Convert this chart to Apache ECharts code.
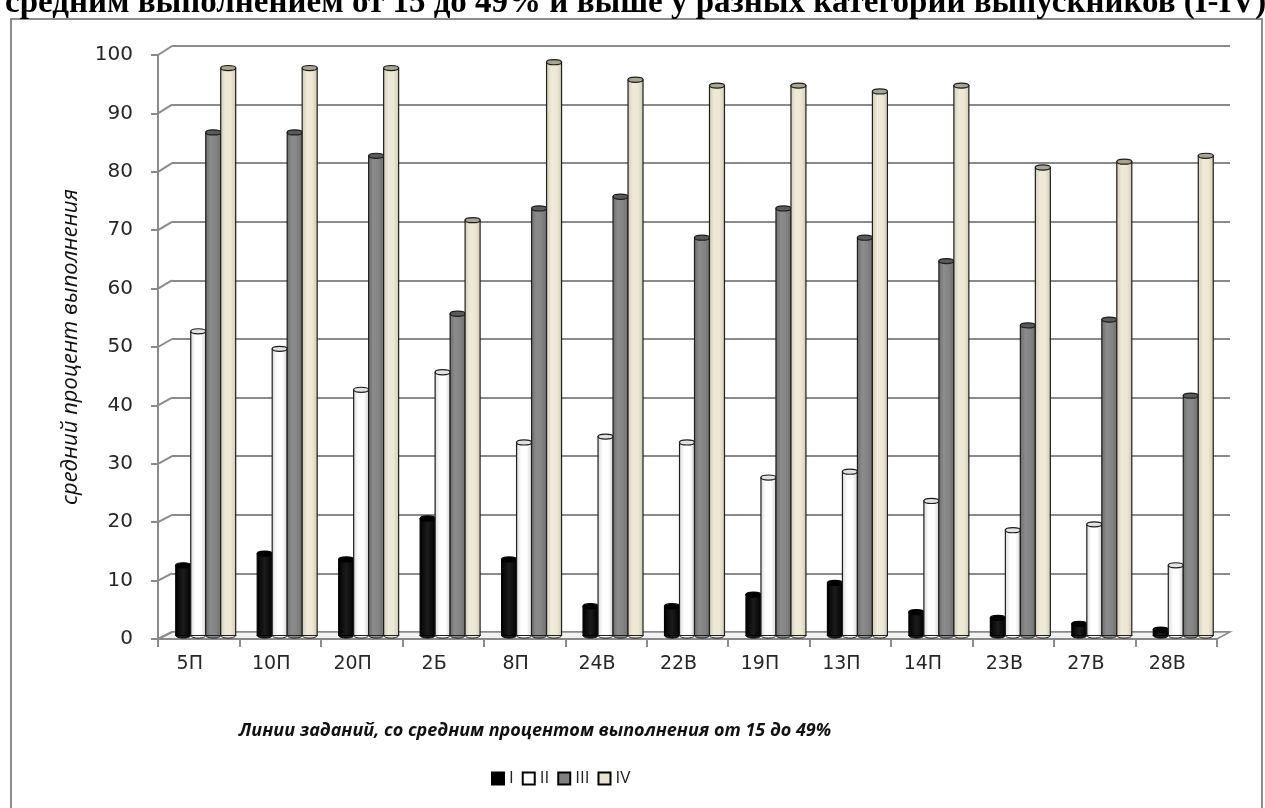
<!DOCTYPE html>
<html>
<head>
<meta charset="utf-8">
<script src="https://cdn.jsdelivr.net/npm/echarts@6/dist/echarts.min.js"></script>
<style>
  html, body { margin: 0; padding: 0; background: #ffffff; }
  #chart { width: 1265px; height: 808px; }
</style>
</head>
<body>
<div id="chart"></div>
<script>
// Task lines (categories) and the average completion percentage per graduate group
const categories = ['5П', '10П', '20П', '2Б', '8П', '24В', '22В', '19П', '13П', '14П', '23В', '27В', '28В'];
const groupNames = ['I', 'II', 'III', 'IV'];
const valuesI   = [12, 14, 13, 20, 13, 5, 5, 7, 9, 4, 3, 2, 1];
const valuesII  = [52, 49, 42, 45, 33, 34, 33, 27, 28, 23, 18, 19, 12];
const valuesIII = [86, 86, 82, 55, 73, 75, 68, 73, 68, 64, 53, 54, 41];
const valuesIV  = [97, 97, 97, 71, 98, 95, 94, 94, 93, 94, 80, 81, 82];
const yTicks = [0, 10, 20, 30, 40, 50, 60, 70, 80, 90, 100];

const titleText = 'средним выполнением от 15 до 49% и выше у разных категорий выпускников (I-IV)';
const xTitle = 'Линии заданий, со средним процентом выполнения от 15 до 49%';
const yTitle = 'средний процент выполнения';

// Pseudo-3D layout: back wall, bar plane and front axis plane
const BACK  = { left: 172, right: 1230, top: 46, bottom: 632 };
const MID   = { left: 165, right: 1224, top: 50.5, bottom: 635.5 };
const FRONT = { left: 158, right: 1217, top: 55, bottom: 639 };

function gridOf(r) {
  return { left: r.left, top: r.top, width: r.right - r.left, height: r.bottom - r.top, containLabel: false };
}

// Cylinder looks for each group
const looks = [
  { body: ['#000000', '#1c1c1c', '#000000'], cap: '#000000', edge: '#000000' },
  { body: ['#d8d8d8', '#ffffff', '#ffffff', '#d0d0d0'], cap: '#e2e2e2', edge: '#1e1e1e' },
  { body: ['#6a6a6a', '#8c8c8c', '#838383', '#6e6e6e'], cap: '#5a5a5a', edge: '#1e1e1e' },
  { body: ['#cfcbb4', '#eeead8', '#ece8d4', '#cdc9b2'], cap: '#a9a690', edge: '#1e1e1e' }
];
const legendColors = ['#000000', '#ffffff', '#808080', '#e8e4d0'];

function gradientOf(stops) {
  const n = stops.length - 1;
  return new echarts.graphic.LinearGradient(0, 0, 1, 0,
    stops.map((c, i) => ({ offset: i / n, color: c })));
}

function cylinder(k) {
  const look = looks[k];
  return function (params, api) {
    const ci = api.value(0);
    const v = api.value(1);
    const top = api.coord([ci, v]);
    const base = api.coord([ci, 0]);
    const band = api.size([1, 0])[0];
    const w = band * 0.184;
    const cx = top[0] + (k - 1.5) * w;
    const ry = w * 0.17;
    return {
      type: 'group',
      children: [
        { type: 'ellipse', shape: { cx: cx, cy: base[1], rx: w / 2, ry: ry },
          style: { fill: look.body[1], stroke: look.edge, lineWidth: 1 } },
        { type: 'rect', shape: { x: cx - w / 2, y: top[1], width: w, height: base[1] - top[1] },
          style: { fill: gradientOf(look.body), stroke: look.edge, lineWidth: 1.2 } },
        { type: 'ellipse', shape: { cx: cx, cy: top[1], rx: w / 2, ry: ry },
          style: { fill: look.cap, stroke: look.edge, lineWidth: 1.2 } }
      ]
    };
  };
}

const seriesData = [valuesI, valuesII, valuesIII, valuesIV];

const chart = echarts.init(document.getElementById('chart'), null, { renderer: 'canvas' });

const option = {
  backgroundColor: '#ffffff',
  animation: false,
  grid: [gridOf(BACK), gridOf(MID), gridOf(FRONT)],
  xAxis: [
    { gridIndex: 0, type: 'category', data: categories, show: false },
    { gridIndex: 1, type: 'category', data: categories, show: false },
    {
      gridIndex: 2, type: 'category', data: categories, boundaryGap: true,
      axisLine: { show: true, lineStyle: { color: '#8a8a8a', width: 2 } },
      axisTick: { show: true, length: 8, lineStyle: { color: '#8a8a8a', width: 2 } },
      axisLabel: { fontFamily: 'DejaVu Sans', fontSize: 19, color: '#262626', margin: 16, padding: [0, 18, 0, 0] },
      splitLine: { show: false }
    }
  ],
  yAxis: [
    {
      gridIndex: 0, type: 'value', min: 0, max: 100, interval: 10,
      axisLine: { show: false }, axisTick: { show: false }, axisLabel: { show: false },
      splitLine: { show: true, lineStyle: { color: '#8a8a8a', width: 2 } }
    },
    { gridIndex: 1, type: 'value', min: 0, max: 100, interval: 10, show: false, splitLine: { show: false } },
    {
      gridIndex: 2, type: 'value', min: 0, max: 100, interval: 10,
      axisLine: { show: true, lineStyle: { color: '#8a8a8a', width: 2 } },
      axisTick: { show: true, length: 7, lineStyle: { color: '#8a8a8a', width: 2 } },
      axisLabel: { fontFamily: 'DejaVu Sans', fontSize: 20, color: '#262626', margin: 25 },
      splitLine: { show: false },
      name: yTitle, nameLocation: 'middle', nameGap: 76,
      nameTextStyle: { fontFamily: 'Open Sans', fontStyle: 'italic', fontSize: 22, color: '#111111' }
    }
  ],
  legend: {
    data: groupNames, left: 486, top: 765, icon: 'rect', itemWidth: 12, itemHeight: 12, itemGap: 8,
    textStyle: { fontFamily: 'Open Sans', fontSize: 17, color: '#222222' }
  },
  series: seriesData.map((vals, k) => ({
    name: groupNames[k],
    type: 'custom',
    xAxisIndex: 1, yAxisIndex: 1,
    renderItem: cylinder(k),
    itemStyle: { color: legendColors[k], borderColor: '#000000', borderWidth: 1.5 },
    encode: { x: 0, y: 1 },
    data: vals.map((v, i) => [i, v]),
    z: 3
  }))
};

chart.setOption(option);

// Decorations: frame, title, floor, tick connectors, x-axis title
const deco = [];
deco.push({ type: 'rect', z: -10, shape: { x: 11, y: 19, width: 1251, height: 820 },
  style: { fill: 'none', stroke: '#8c8c8c', lineWidth: 2 } });
deco.push({ type: 'text', z: 5, style: { x: 5, y: 20, text: titleText, verticalAlign: 'bottom',
  font: 'bold 33px "Liberation Serif"', fill: '#000000' } });
deco.push({ type: 'polygon', z: 0, shape: { points: [
  [FRONT.left, FRONT.bottom], [BACK.left, BACK.bottom], [BACK.right, BACK.bottom], [FRONT.right, FRONT.bottom]
] }, style: { fill: '#f2f2f2', stroke: '#8a8a8a', lineWidth: 1.5 } });
yTicks.forEach(function (v) {
  const yf = chart.convertToPixel({ yAxisIndex: 2 }, v);
  const yb = chart.convertToPixel({ yAxisIndex: 0 }, v);
  deco.push({ type: 'polyline', z: 1, shape: { points: [[FRONT.left, yf], [BACK.left, yb]] },
    style: { stroke: '#8a8a8a', lineWidth: 2, fill: null } });
});
deco.push({ type: 'text', z: 5, style: { x: 535, y: 731, text: xTitle, align: 'center', verticalAlign: 'middle',
  font: 'italic bold 18px "Open Sans"', fill: '#111111' } });

chart.setOption({ graphic: { elements: deco } });
</script>
</body>
</html>
